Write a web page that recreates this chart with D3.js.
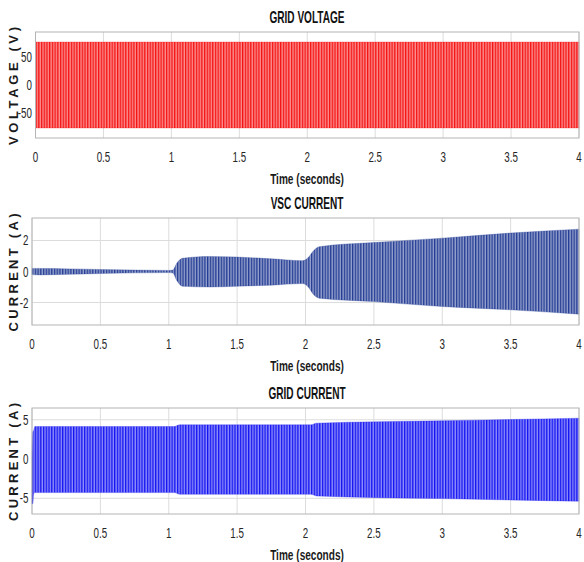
<!DOCTYPE html>
<html>
<head>
<meta charset="utf-8">
<script src="https://cdn.jsdelivr.net/npm/d3@7"></script>
<style>
  body { margin: 0; background: #fff; }
  svg { display: block; }
</style>
</head>
<body>
<div id="chart"></div>
<script>
// Envelope of each signal (upper / lower peaks)
const xTicks = [0, 0.5, 1, 1.5, 2, 2.5, 3, 3.5, 4];

const voltTime  = [0, 4];
const voltUpper = [77, 77];
const voltLower = [-77, -77];

const vscTime  = [0, 0.05, 0.5, 1.0, 1.03, 1.06, 1.1, 1.3, 1.5, 1.75, 1.98, 2.02, 2.06, 2.1, 2.5, 3.0, 3.5, 4.0];
const vscUpper = [0.2, 0.2, 0.13, 0.07, 0.1, 0.55, 0.85, 0.97, 0.93, 0.82, 0.7, 0.9, 1.35, 1.6, 1.87, 2.15, 2.48, 2.73];
const vscLower = [-0.2, -0.22, -0.13, -0.07, -0.1, -0.6, -0.95, -1.0, -0.95, -0.88, -0.78, -1.0, -1.5, -1.72, -1.94, -2.26, -2.47, -2.75];

const gridTime  = [0, 0.006, 0.012, 0.02, 1.04, 1.08, 2.04, 2.08, 3.0, 4.0];
const gridUpper = [0, 3.5, 3.6, 4.14, 4.14, 4.36, 4.36, 4.57, 4.87, 5.2];
const gridLower = [-5.7, -5.7, -4.5, -4.27, -4.27, -4.49, -4.49, -4.7, -5.04, -5.38];

const panels = [
  { title: 'GRID VOLTAGE', ylabel: 'VOLTAGE (V)', color: '#f51313',
    t: voltTime, hi: voltUpper, lo: voltLower,
    left: 35.5, top: 32, bottom: 138, ydom: [-95, 95], yticks: [-50, 0, 50] },
  { title: 'VSC CURRENT', ylabel: 'CURRENT (A)', color: '#233c94',
    t: vscTime, hi: vscUpper, lo: vscLower,
    left: 32, top: 218, bottom: 325, ydom: [-3.45, 3.45], yticks: [-2, 0, 2] },
  { title: 'GRID CURRENT', ylabel: 'CURRENT (A)', color: '#1414f2',
    t: gridTime, hi: gridUpper, lo: gridLower,
    left: 32, top: 408, bottom: 514, ydom: [-7, 6.5], yticks: [-5, 0, 5] }
];

const W = 584, H = 562, right = 579;
const svg = d3.select('#chart').append('svg')
  .attr('width', W).attr('height', H)
  .style('font-family', 'Liberation Sans, Arial, sans-serif');

const defs = svg.append('defs');

panels.forEach((p, i) => {
  const x = d3.scaleLinear().domain([0, 4]).range([p.left, right]);
  const y = d3.scaleLinear().domain(p.ydom).range([p.bottom, p.top]);
  const g = svg.append('g');

  // grid
  g.append('g').selectAll('line').data(xTicks).join('line')
    .attr('x1', d => x(d)).attr('x2', d => x(d))
    .attr('y1', p.top).attr('y2', p.bottom)
    .attr('stroke', '#dcdcdc').attr('stroke-width', 1);
  g.append('g').selectAll('line').data(p.yticks).join('line')
    .attr('x1', p.left).attr('x2', right)
    .attr('y1', d => y(d)).attr('y2', d => y(d))
    .attr('stroke', '#dcdcdc').attr('stroke-width', 1);

  // oscillation texture: thin light gaps, one per 50 Hz cycle
  const cyc = x(0.02) - x(0);
  const pat = defs.append('pattern')
    .attr('id', 'stripe' + i)
    .attr('patternUnits', 'userSpaceOnUse')
    .attr('x', p.left).attr('y', 0)
    .attr('width', cyc).attr('height', 10);
  pat.append('rect').attr('width', cyc).attr('height', 10).attr('fill', p.color);
  pat.append('rect').attr('x', cyc * 0.55).attr('width', cyc * 0.33).attr('height', 10)
    .attr('fill', '#fff').attr('opacity', 0.8);

  const env = p.t.map((t, k) => ({ t: t, hi: p.hi[k], lo: p.lo[k] }));
  const area = d3.area()
    .x(d => x(d.t))
    .y0(d => y(d.lo))
    .y1(d => y(d.hi))
    .curve(d3.curveMonotoneX);

  g.append('path').datum(env)
    .attr('d', area)
    .attr('fill', `url(#stripe${i})`);
  g.append('path').datum(env)
    .attr('d', area)
    .attr('fill', 'none')
    .attr('stroke', p.color).attr('stroke-width', 0.5).attr('opacity', 0.6);

  // frame
  g.append('rect')
    .attr('x', p.left).attr('y', p.top)
    .attr('width', right - p.left).attr('height', p.bottom - p.top)
    .attr('fill', 'none').attr('stroke', '#b4b4b4').attr('stroke-width', 1);

  // x tick labels
  g.append('g').selectAll('text').data(xTicks).join('text')
    .attr('transform', d => `translate(${x(d)},${p.bottom + 24}) scale(0.7,1)`)
    .attr('text-anchor', 'middle')
    .style('font-size', '14px').style('fill', '#262626')
    .text(d => d);

  // y tick labels
  g.append('g').selectAll('text').data(p.yticks).join('text')
    .attr('transform', d => `translate(${p.left - 3.5},${y(d) + 5}) scale(0.7,1)`)
    .attr('text-anchor', 'end')
    .style('font-size', '14px').style('fill', '#262626')
    .text(d => d);

  // title
  g.append('text')
    .attr('transform', `translate(307,${p.top - 9}) scale(0.63,1)`)
    .attr('text-anchor', 'middle')
    .style('font-size', '16px').style('font-weight', 'bold').style('fill', '#111')
    .text(p.title);

  // x label
  g.append('text')
    .attr('transform', `translate(307,${p.bottom + 46}) scale(0.72,1)`)
    .attr('text-anchor', 'middle')
    .style('font-size', '14px').style('font-weight', 'bold').style('fill', '#1a1a1a')
    .text('Time (seconds)');

  // y label
  const cy = (p.top + p.bottom) / 2 + 1;
  g.append('text')
    .attr('transform', `translate(18,${cy}) rotate(-90)`)
    .attr('text-anchor', 'middle')
    .attr('textLength', 118).attr('lengthAdjust', 'spacing')
    .style('font-size', '13px').style('font-weight', 'bold').style('fill', '#1a1a1a')
    .text(p.ylabel);
});
</script>
</body>
</html>
